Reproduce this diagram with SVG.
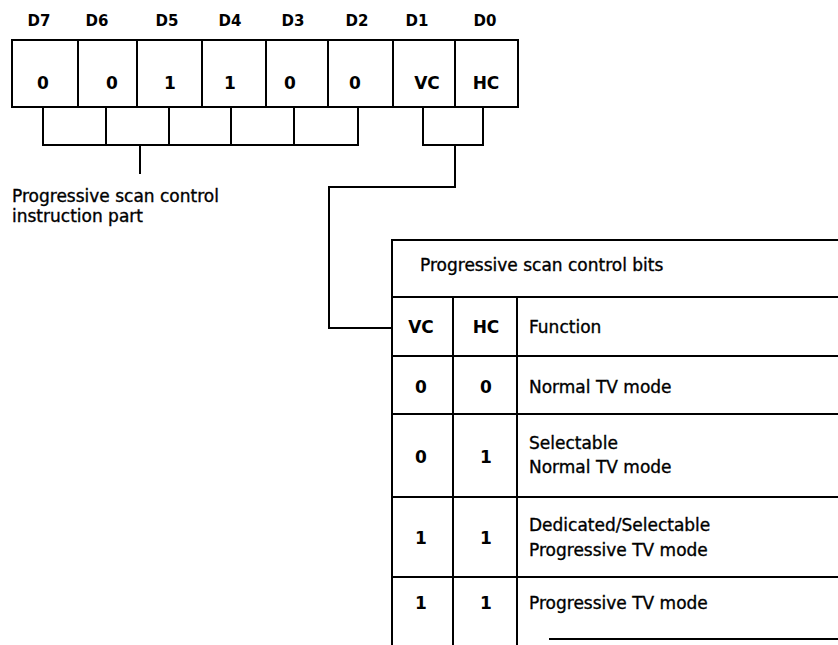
<svg xmlns="http://www.w3.org/2000/svg" width="838" height="645" viewBox="0 0 838 645">
<style>
.ln{fill:none;stroke:#000;stroke-width:2;stroke-linecap:square}
.lbl{font-family:"DejaVu Sans","Liberation Sans",sans-serif;font-weight:bold;font-size:15px;text-anchor:middle;fill:#000}
.val{font-family:"DejaVu Sans","Liberation Sans",sans-serif;font-weight:bold;font-size:17px;text-anchor:middle;fill:#000}
.txt{font-family:"DejaVu Sans","Liberation Sans",sans-serif;font-size:17px;fill:#000;stroke:#000;stroke-width:0.35}
</style>
<rect width="838" height="645" fill="#fff"/>
<g id="register">
<rect class="ln" x="12" y="40" width="506" height="67"/>
<path class="ln" d="M78,40V107M137,40V107M202,40V107M266,40V107M328,40V107M393,40V107M455,40V107"/>
<text class="lbl" x="39" y="26">D7</text>
<text class="lbl" x="97" y="26">D6</text>
<text class="lbl" x="167" y="26">D5</text>
<text class="lbl" x="230" y="26">D4</text>
<text class="lbl" x="293" y="26">D3</text>
<text class="lbl" x="357" y="26">D2</text>
<text class="lbl" x="417" y="26">D1</text>
<text class="lbl" x="485" y="26">D0</text>
<text class="val" x="43" y="89">0</text>
<text class="val" x="112" y="89">0</text>
<text class="val" x="170" y="89">1</text>
<text class="val" x="230" y="89">1</text>
<text class="val" x="290" y="89">0</text>
<text class="val" x="355" y="89">0</text>
<text class="val" x="427" y="89">VC</text>
<text class="val" x="486" y="89">HC</text>
</g>
<g id="instruction-part">
<text class="txt" x="12" y="202">Progressive scan control</text>
<text class="txt" x="12" y="222">instruction part</text>
</g>
<g id="connectors">
<path class="ln" d="M43,107V145H358V107M106,107V145M169,107V145M231,107V145M294,107V145"/>
<path class="ln" d="M140,145V173"/>
<path class="ln" d="M423,107V145H483V107"/>
<path class="ln" d="M455,145V187H329V328H392"/>
</g>
<g id="table">
<path class="ln" d="M392,240V646M453,297V646M517,297V646"/>
<path class="ln" d="M392,240H839M392,297H839M392,356H839M392,414H839M392,497H839M392,577H839M550,639H839"/>
<text class="txt" x="420" y="271">Progressive scan control bits</text>
<text class="val" x="421" y="333">VC</text>
<text class="val" x="486" y="333">HC</text>
<text class="txt" x="529" y="333">Function</text>
<text class="val" x="421" y="393">0</text>
<text class="val" x="486" y="393">0</text>
<text class="txt" x="529" y="393">Normal TV mode</text>
<text class="val" x="421" y="463">0</text>
<text class="val" x="486" y="463">1</text>
<text class="txt" x="529" y="449">Selectable</text>
<text class="txt" x="529" y="473">Normal TV mode</text>
<text class="val" x="421" y="544">1</text>
<text class="val" x="486" y="544">1</text>
<text class="txt" x="529" y="531">Dedicated/Selectable</text>
<text class="txt" x="529" y="556">Progressive TV mode</text>
<text class="val" x="421" y="609">1</text>
<text class="val" x="486" y="609">1</text>
<text class="txt" x="529" y="609">Progressive TV mode</text>
</g>
</svg>
